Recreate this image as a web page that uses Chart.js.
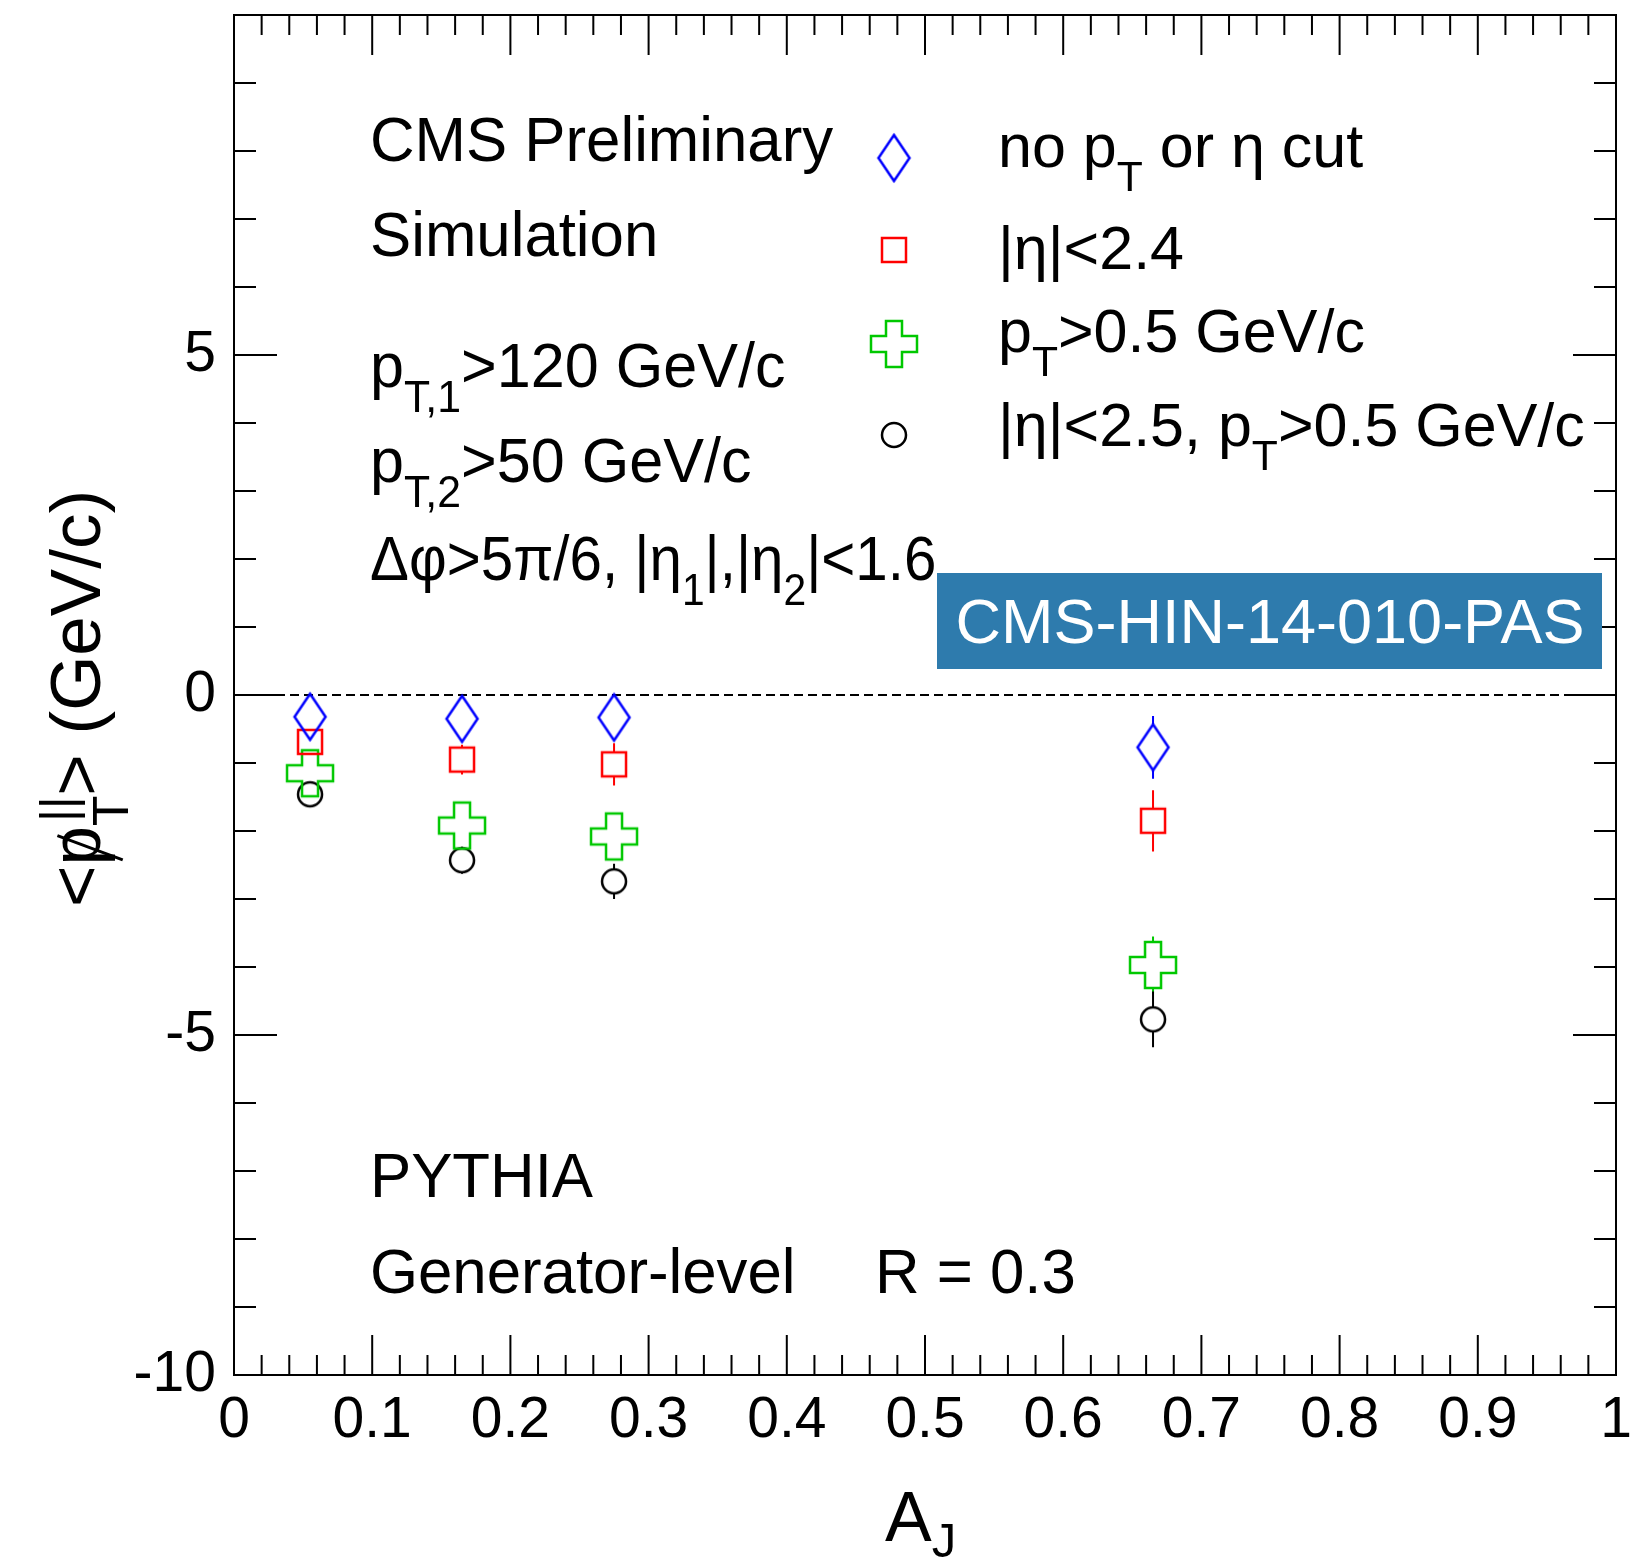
<!DOCTYPE html>
<html>
<head>
<meta charset="utf-8">
<script src="https://cdn.jsdelivr.net/npm/chart.js@4.4.1/dist/chart.umd.min.js"></script>
<style>
  html, body { margin: 0; background: #fff; }
  #wrap { width: 1633px; height: 1562px; }
</style>
</head>
<body>
<div id="wrap"><canvas id="c" width="1633" height="1562"></canvas></div>
<script>
// A_J bin centres
const ajBins = [0.055, 0.165, 0.275, 0.665];

// <p_T^||> per selection (GeV/c) and stat errors
const noCut = [-0.32, -0.35, -0.33, -0.77];
const noCutErr = [0.12, 0.20, 0.25, 0.46];
const etaCut = [-0.69, -0.95, -1.02, -1.85];
const etaCutErr = [0.12, 0.22, 0.31, 0.45];
const ptCut = [-1.15, -1.92, -2.08, -3.97];
const ptCutErr = [0.12, 0.20, 0.25, 0.42];
const bothCut = [-1.46, -2.43, -2.74, -4.77];
const bothCutErr = [0.12, 0.20, 0.26, 0.41];

const xTickValues = [0, 0.1, 0.2, 0.3, 0.4, 0.5, 0.6, 0.7, 0.8, 0.9, 1];
const xTickLabels = ["0", "0.1", "0.2", "0.3", "0.4", "0.5", "0.6", "0.7", "0.8", "0.9", "1"];
const yTickValues = [-10, -5, 0, 5];
const yTickLabels = ["-10", "-5", "0", "5"];

const legendRows = [
  [{ t: "no p" }, { t: "T", sub: true }, { t: " or η cut" }],
  [{ t: "|η|<2.4" }],
  [{ t: "p" }, { t: "T", sub: true }, { t: ">0.5 GeV/c" }],
  [{ t: "|η|<2.5, p" }, { t: "T", sub: true }, { t: ">0.5 GeV/c" }]
];

const FONT = '"Liberation Sans", Arial, Helvetica, sans-serif';

function makeMarker(w, h, color, draw) {
  const c = document.createElement("canvas");
  c.width = w + 6;
  c.height = h + 6;
  const g = c.getContext("2d");
  g.translate(c.width / 2, c.height / 2);
  g.strokeStyle = color;
  g.lineWidth = 2.5;
  g.lineJoin = "miter";
  g.beginPath();
  draw(g);
  g.stroke();
  return c;
}

const diamond = makeMarker(31, 46, "#0000ff", g => {
  g.moveTo(0, -23); g.lineTo(15.5, 0); g.lineTo(0, 23); g.lineTo(-15.5, 0); g.closePath();
});
const square = makeMarker(24, 24, "#ff0000", g => {
  g.rect(-12, -12, 24, 24);
});
const cross = makeMarker(46, 46, "#00c800", g => {
  const a = 23, b = 8;
  g.moveTo(-b, -a); g.lineTo(b, -a); g.lineTo(b, -b); g.lineTo(a, -b); g.lineTo(a, b);
  g.lineTo(b, b); g.lineTo(b, a); g.lineTo(-b, a); g.lineTo(-b, b); g.lineTo(-a, b);
  g.lineTo(-a, -b); g.lineTo(-b, -b); g.closePath();
});
const circle = makeMarker(24, 24, "#000000", g => {
  g.arc(0, 0, 12, 0, Math.PI * 2);
});

function series(label, vals, errs, color, style, half) {
  return {
    label: label,
    data: ajBins.map((x, i) => ({ x: x, y: vals[i] })),
    errors: errs,
    markerHalf: half,
    borderColor: color,
    backgroundColor: color,
    pointStyle: style,
    pointRadius: 12,
    pointHoverRadius: 12,
    showLine: false
  };
}

// draws text with sub/superscripts (optionally squeezed in x), returns end x
function rich(ctx, x, y, parts, size, squeeze) {
  const k = squeeze || 1;
  ctx.save();
  ctx.translate(x, y);
  ctx.scale(k, 1);
  let cx = 0;
  for (const p of parts) {
    const s = (p.sub || p.sup) ? size * 0.7 : size;
    ctx.font = s + "px " + FONT;
    let dy = p.sub ? size * 0.4 : (p.sup ? -size * 0.35 : 0);
    if (p.dy !== undefined) dy = p.dy;
    ctx.fillText(p.t, cx + (p.dx || 0), dy);
    if (p.slash) {
      ctx.save();
      ctx.lineWidth = 3;
      ctx.beginPath();
      ctx.moveTo(cx + size * 0.08, size * 0.32);
      ctx.lineTo(cx + size * 0.42, -size * 0.6);
      ctx.stroke();
      ctx.restore();
    }
    if (!p.stay) cx += ctx.measureText(p.t).width;
  }
  ctx.restore();
  return x + cx * k;
}

const decor = {
  id: "decor",
  beforeDatasetsDraw(chart) {
    const { ctx, chartArea: a, scales: { x, y } } = chart;
    ctx.save();
    // zero line
    const y0 = y.getPixelForValue(0);
    ctx.strokeStyle = "#000";
    ctx.lineWidth = 2;
    ctx.setLineDash([9, 5]);
    ctx.beginPath();
    ctx.moveTo(a.left, y0);
    ctx.lineTo(a.right, y0);
    ctx.stroke();
    ctx.setLineDash([]);
    // error bars, drawn outside the marker
    chart.data.datasets.forEach((ds, di) => {
      const meta = chart.getDatasetMeta(di);
      ctx.strokeStyle = ds.borderColor;
      ctx.lineWidth = 2;
      meta.data.forEach((pt, i) => {
        const v = ds.data[i].y, e = ds.errors[i];
        const top = y.getPixelForValue(v + e), bot = y.getPixelForValue(v - e);
        ctx.beginPath();
        if (pt.y - top > ds.markerHalf) { ctx.moveTo(pt.x, top); ctx.lineTo(pt.x, pt.y - ds.markerHalf); }
        if (bot - pt.y > ds.markerHalf) { ctx.moveTo(pt.x, pt.y + ds.markerHalf); ctx.lineTo(pt.x, bot); }
        ctx.stroke();
      });
    });
    ctx.restore();
  },
  afterDraw(chart) {
    const { ctx, chartArea: a, scales: { x, y } } = chart;
    ctx.save();
    ctx.strokeStyle = "#000";
    ctx.lineWidth = 2;
    ctx.strokeRect(a.left, a.top, a.right - a.left, a.bottom - a.top);
    ctx.beginPath();
    for (let i = 0; i <= 50; i++) {
      const px = x.getPixelForValue(i / 50);
      const len = i % 5 === 0 ? 40 : 20;
      ctx.moveTo(px, a.bottom); ctx.lineTo(px, a.bottom - len);
      ctx.moveTo(px, a.top); ctx.lineTo(px, a.top + len);
    }
    for (let v = -10; v <= 10; v++) {
      const py = y.getPixelForValue(v);
      const len = v % 5 === 0 ? 43 : 22;
      ctx.moveTo(a.left, py); ctx.lineTo(a.left + len, py);
      ctx.moveTo(a.right, py); ctx.lineTo(a.right - len, py);
    }
    ctx.stroke();

    ctx.fillStyle = "#000";
    ctx.textBaseline = "alphabetic";
    ctx.textAlign = "left";
    const s = 63;
    rich(ctx, 370, 161, [{ t: "CMS Preliminary" }], s, 0.98);
    rich(ctx, 370, 256, [{ t: "Simulation" }], s, 0.98);
    rich(ctx, 370, 387, [{ t: "p" }, { t: "T,1", sub: true }, { t: ">120 GeV/c" }], s, 0.97);
    rich(ctx, 370, 482, [{ t: "p" }, { t: "T,2", sub: true }, { t: ">50 GeV/c" }], s, 0.97);
    rich(ctx, 370, 580, [{ t: "Δφ>5π/6, |η" }, { t: "1", sub: true }, { t: "|,|η" }, { t: "2", sub: true }, { t: "|<1.6" }], s, 0.925);
    rich(ctx, 370, 1197, [{ t: "PYTHIA" }], s, 0.98);
    rich(ctx, 370, 1293, [{ t: "Generator-level" }], s, 0.98);
    rich(ctx, 875, 1293, [{ t: "R = 0.3" }], s, 0.98);

    // legend
    const legY = [158, 250, 344, 435];
    const legBase = [167, 269, 352, 446];
    chart.data.datasets.forEach((ds, i) => {
      const m = ds.pointStyle;
      ctx.drawImage(m, 894 - m.width / 2, legY[i] - m.height / 2);
      ctx.fillStyle = "#000";
      rich(ctx, 998, legBase[i], legendRows[i], 61);
    });

    // PAS box
    ctx.fillStyle = "#2e7bad";
    ctx.fillRect(937, 573, 665, 96);
    ctx.fillStyle = "#fff";
    ctx.font = "63px " + FONT;
    ctx.textAlign = "center";
    ctx.fillText("CMS-HIN-14-010-PAS", 1270, 643);
    ctx.textAlign = "left";

    // axis titles
    ctx.fillStyle = "#000";
    ctx.strokeStyle = "#000";
    rich(ctx, 885, 1541, [{ t: "A" }, { t: "J", sub: true, dy: 16 }], 70);
    ctx.save();
    ctx.translate(100, 907);
    ctx.rotate(-Math.PI / 2);
    rich(ctx, 0, 0, [
      { t: "<" },
      { t: "p", slash: true },
      { t: "||", sup: true, stay: true, dx: 4 },
      { t: "T", sub: true },
      { t: "> (GeV/c)" }
    ], 71);
    ctx.restore();
    ctx.restore();
  }
};

new Chart(document.getElementById("c"), {
  type: "scatter",
  data: {
    datasets: [
      series("no pT or eta cut", noCut, noCutErr, "#0000ff", diamond, 23),
      series("|eta|<2.4", etaCut, etaCutErr, "#ff0000", square, 12),
      series("pT>0.5 GeV/c", ptCut, ptCutErr, "#00c800", cross, 23),
      series("|eta|<2.5, pT>0.5 GeV/c", bothCut, bothCutErr, "#000000", circle, 12)
    ]
  },
  options: {
    responsive: false,
    animation: false,
    events: [],
    layout: { padding: { left: 0, top: 15, right: 17, bottom: 0 }, autoPadding: false },
    plugins: {
      legend: { display: false },
      tooltip: { enabled: false }
    },
    scales: {
      x: {
        type: "linear",
        min: 0,
        max: 1,
        grid: { display: false, drawTicks: false },
        border: { display: false },
        ticks: {
          padding: 12,
          color: "#000",
          autoSkip: false,
          maxRotation: 0,
          font: { size: 57, family: FONT },
          callback: (v, i) => xTickLabels[i]
        },
        afterBuildTicks: s => { s.ticks = xTickValues.map(v => ({ value: v })); },
        afterFit: s => {
          s.height = 187;
          s.paddingLeft = 0; s.paddingRight = 0; s.paddingTop = 0; s.paddingBottom = 0;
        }
      },
      y: {
        type: "linear",
        min: -10,
        max: 10,
        grid: { display: false, drawTicks: false },
        border: { display: false },
        ticks: {
          padding: 18,
          color: "#000",
          autoSkip: false,
          font: { size: 57, family: FONT },
          callback: (v, i) => yTickLabels[i]
        },
        afterBuildTicks: s => { s.ticks = yTickValues.map(v => ({ value: v })); },
        afterFit: s => {
          s.width = 234;
          s.paddingLeft = 0; s.paddingRight = 0; s.paddingTop = 0; s.paddingBottom = 0;
        }
      }
    }
  },
  plugins: [decor]
});
</script>
</body>
</html>
